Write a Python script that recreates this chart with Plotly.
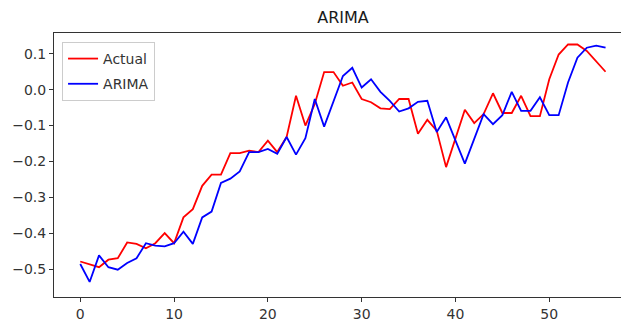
import plotly.graph_objects as go

x_index = list(range(57))
actual = [-0.479, -0.487, -0.495, -0.474, -0.470, -0.426, -0.430, -0.442, -0.428, -0.400,
          -0.428, -0.356, -0.333, -0.268, -0.237, -0.237, -0.177, -0.177, -0.170, -0.174,
          -0.142, -0.174, -0.132, -0.017, -0.100, -0.040, 0.049, 0.049, 0.011, 0.020,
          -0.026, -0.035, -0.052, -0.054, -0.026, -0.026, -0.123, -0.084, -0.114, -0.216,
          -0.137, -0.056, -0.093, -0.068, -0.010, -0.065, -0.065, -0.017, -0.074, -0.074,
          0.029, 0.098, 0.126, 0.126, 0.108, 0.078, 0.050]
arima = [-0.486, -0.536, -0.462, -0.495, -0.502, -0.483, -0.470, -0.428, -0.435, -0.437,
         -0.428, -0.396, -0.430, -0.356, -0.340, -0.260, -0.248, -0.228, -0.174, -0.174,
         -0.165, -0.179, -0.132, -0.181, -0.135, -0.026, -0.103, -0.035, 0.038, 0.061,
         0.006, 0.029, -0.006, -0.031, -0.061, -0.052, -0.034, -0.031, -0.118, -0.077,
         -0.142, -0.206, -0.137, -0.068, -0.096, -0.071, -0.006, -0.059, -0.059, -0.021,
         -0.071, -0.071, 0.020, 0.089, 0.117, 0.123, 0.117]

x_tickvals = [0, 10, 20, 30, 40, 50]
y_tickvals = [0.1, 0.0, -0.1, -0.2, -0.3, -0.4, -0.5]
y_ticktext = ["0.1", "0.0", "\u22120.1", "\u22120.2", "\u22120.3", "\u22120.4", "\u22120.5"]

font = "DejaVu Sans, Liberation Sans, sans-serif"

fig = go.Figure()
fig.add_trace(go.Scatter(x=x_index, y=actual, mode="lines", name="Actual", legendgroup="a",
                         line=dict(color="#ff0000", width=1.8)))
fig.add_trace(go.Scatter(x=x_index, y=arima, mode="lines", name="ARIMA", legendgroup="b",
                         line=dict(color="#0000ff", width=1.8)))

# page body has an 8px margin, so the figure is sized/offset to compensate
fig.update_layout(
    width=621, height=316,
    margin=dict(l=46, r=0, t=25, b=27, pad=0),
    paper_bgcolor="white", plot_bgcolor="white",
    font=dict(family=font, size=14, color="#333333"),
    title=dict(text="ARIMA", x=335 / 621, xref="container", xanchor="center",
               y=1 - 9 / 316, yref="container", yanchor="middle",
               font=dict(size=16, color="#1a1a1a")),
    showlegend=True,
    legend=dict(x=0.014, y=0.966, xanchor="left", yanchor="top",
                bgcolor="rgba(255,255,255,0.8)", bordercolor="#cccccc", borderwidth=1,
                font=dict(size=14, color="#333333"), itemwidth=30, tracegroupgap=4,
                traceorder="grouped"),
)
fig.update_xaxes(range=[-2.8, 58.5], tickvals=x_tickvals, showgrid=False, zeroline=False,
                 showline=True, linecolor="#333333", linewidth=1, mirror=True,
                 ticks="outside", ticklen=4, tickcolor="#333333", automargin=False)
fig.update_yaxes(range=[-0.578, 0.158], tickvals=y_tickvals, ticktext=y_ticktext,
                 showgrid=False, zeroline=False,
                 showline=True, linecolor="#333333", linewidth=1, mirror=False,
                 ticks="outside", ticklen=4, tickcolor="#333333", automargin=False)

fig.write_html("out.html")
